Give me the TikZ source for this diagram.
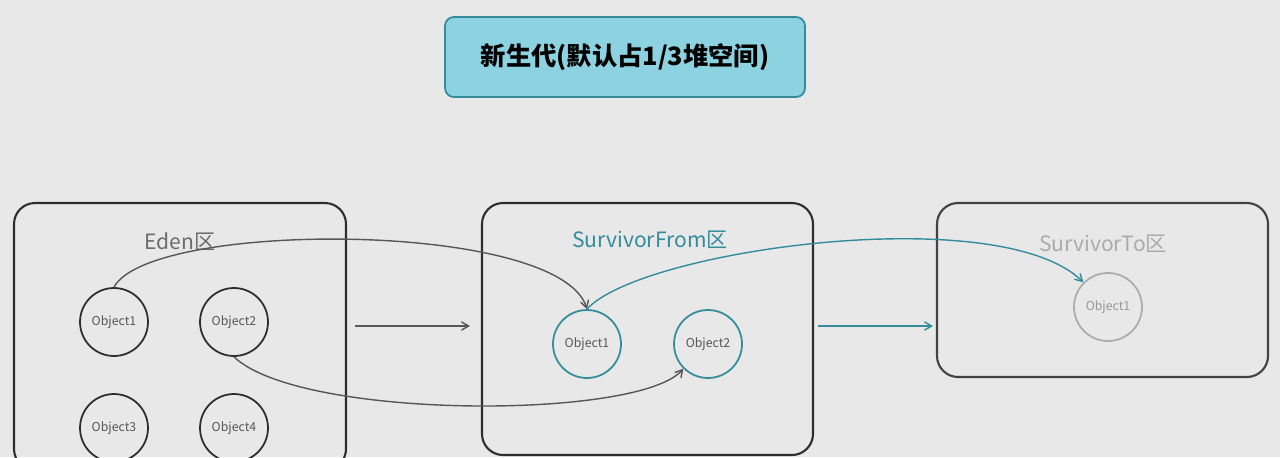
\documentclass[tikz,border=0pt]{standalone}
\usepackage{fontspec}
\setmainfont{Noto Sans CJK SC}
\usetikzlibrary{arrows}
\definecolor{bg}{RGB}{232,232,232}
\definecolor{Teal}{RGB}{52,140,155}
\definecolor{Frame}{RGB}{45,45,45}
\definecolor{Faded}{RGB}{150,150,150}
\definecolor{TitleFill}{RGB}{140,210,225}
\begin{document}
\begin{tikzpicture}[x=0.02cm, y=-0.02cm]
    \tikzset{
        area/.style={draw=Frame, line width=1.2pt, rounded corners=12pt},
        obj/.style={circle, draw=Frame, line width=1pt, minimum size=1.36cm, inner sep=0pt, font=\scriptsize, text=Frame!80},
        link/.style={->, >=angle 60, line width=0.8pt, draw=Frame!80}
    }
    \fill[bg] (0,0) rectangle (1280,457);
    \useasboundingbox (0,0) rectangle (1280,457);

    \node[draw=Teal, fill=TitleFill, line width=1pt, rounded corners=5pt, minimum width=7.2cm, minimum height=1.6cm, font=\Large\bfseries] (title) at (625,57) {新生代(默认占1/3堆空间)};

    \draw[area] (14,203) rectangle (346,470);
    \draw[area] (482,203) rectangle (813,455);
    \draw[area, draw=Frame!90] (937,203) rectangle (1268,377);

    \node[text=Frame!70, font=\large] (eden) at (180,242) {Eden区};
    \node[text=Teal, font=\large] (from) at (650,240) {SurvivorFrom区};
    \node[text=Faded!80, font=\large] (to) at (1103,244) {SurvivorTo区};

    \node[obj] (e1) at (114,322) {Object1};
    \node[obj] (e2) at (234,322) {Object2};
    \node[obj] (e3) at (114,428) {Object3};
    \node[obj] (e4) at (234,428) {Object4};

    \node[obj, draw=Teal] (f1) at (587,344) {Object1};
    \node[obj, draw=Teal] (f2) at (708,344) {Object2};

    \node[obj, draw=Faded!80, text=Faded] (t1) at (1108,307) {Object1};

    \coordinate (a1s) at (355,326);
    \coordinate (a1e) at (470,326);
    \coordinate (a2s) at (818,326);
    \coordinate (a2e) at (933,326);
    \draw[link] (a1s) -- (a1e);
    \draw[link, draw=Teal] (a2s) -- (a2e);

    \draw[link] (e1.north) .. controls (150,220) and (560,220) .. (f1.north);
    \draw[link] (e2.south) .. controls (300,420) and (640,420) .. (f2.south west);
    \draw[link, draw=Teal] (f1.north) .. controls (640,250) and (1000,200) .. (t1.north west);
\end{tikzpicture}
\end{document}
